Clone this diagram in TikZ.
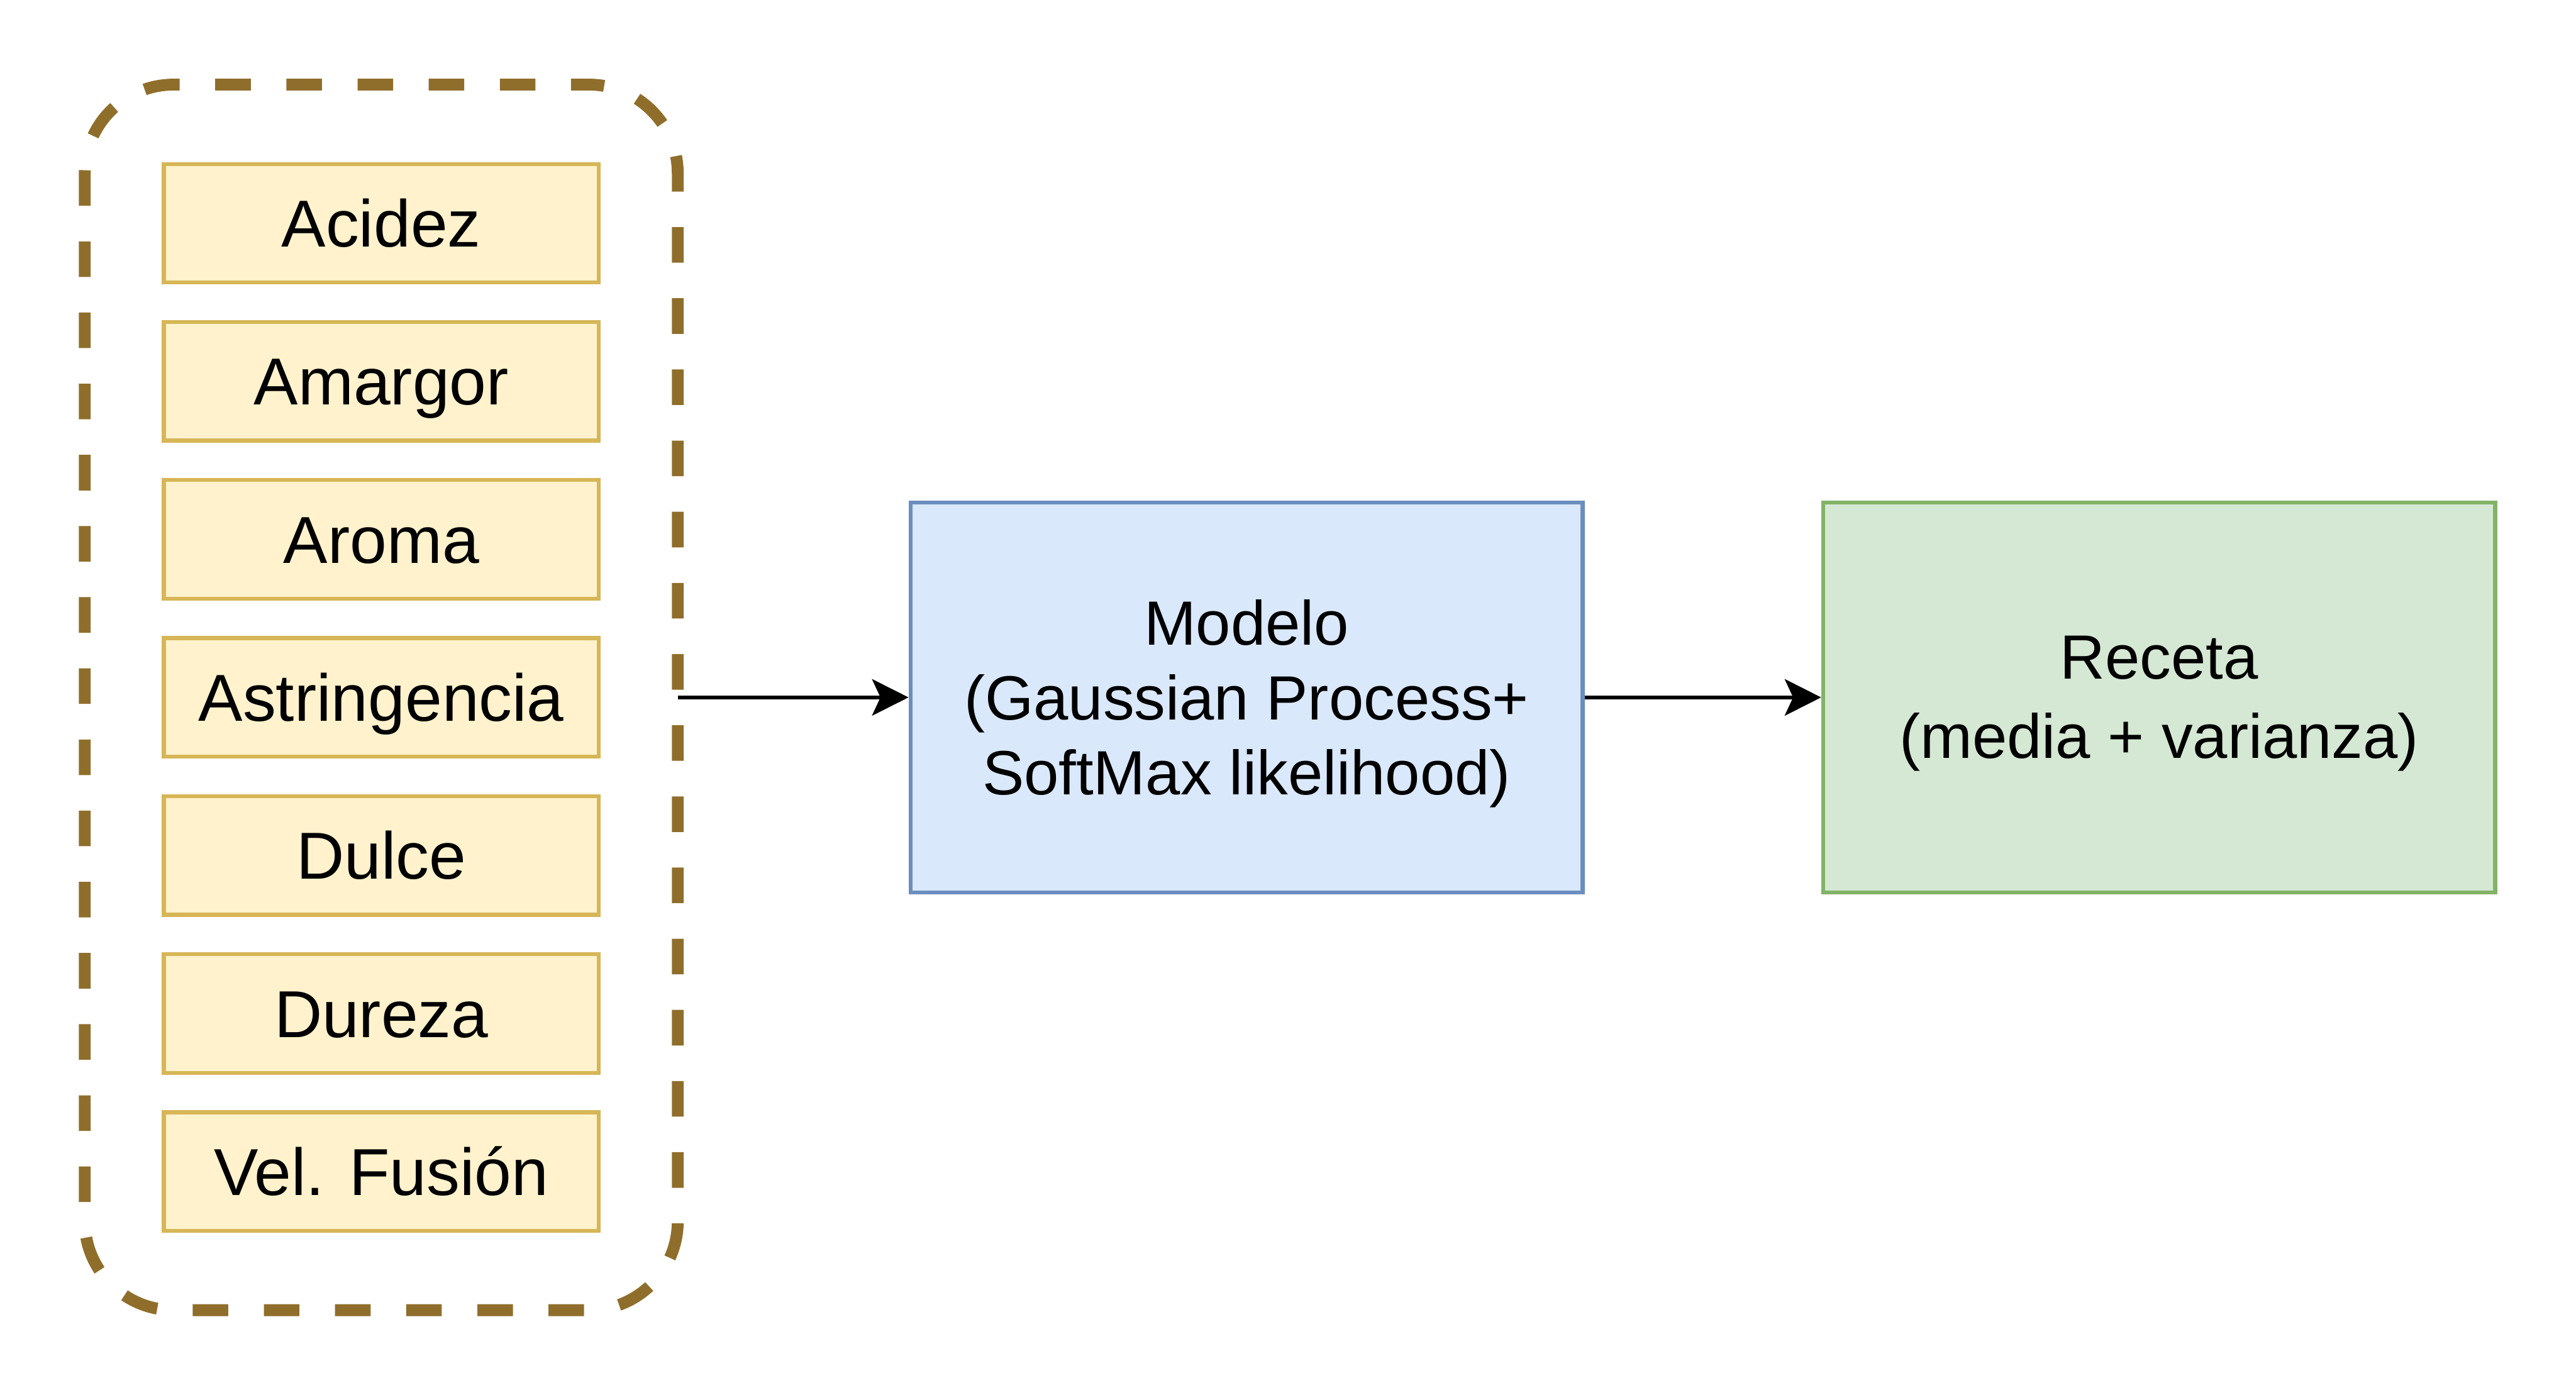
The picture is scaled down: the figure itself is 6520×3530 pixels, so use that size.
\documentclass[tikz,border=0pt]{standalone}
\usepackage{fontspec}
\setmainfont{Liberation Sans}
\usetikzlibrary{arrows.meta}
\definecolor{grpline}{RGB}{143,110,43}
\definecolor{featfill}{HTML}{FFF2CC}
\definecolor{featline}{HTML}{D6B656}
\definecolor{modfill}{HTML}{DAE8FC}
\definecolor{modline}{HTML}{6C8EBF}
\definecolor{recfill}{HTML}{D5E8D4}
\definecolor{recline}{HTML}{82B366}
\begin{document}
\begin{tikzpicture}[x=0.01cm, y=-0.01cm,
  grupo/.style={draw=grpline, line width=0.3cm, dash pattern=on 0.9cm off 0.9cm, dash phase=0.45cm, rounded corners=2.25cm, minimum width=15cm, minimum height=31cm, inner sep=0pt, outer sep=0pt},
  feat/.style={draw=featline, fill=featfill, line width=0.1cm, minimum width=11cm, minimum height=3cm, inner sep=0pt, text height=1.2cm, text depth=0pt, font=\fontsize{47.8}{57}\selectfont},
  caja/.style={line width=0.1cm, minimum width=17cm, minimum height=9.86cm, inner sep=0pt, align=center, font=\fontsize{45}{54}\selectfont},
  flecha/.style={line width=0.1cm, -{Stealth[length=0.92cm, width=0.92cm, inset=0.21cm]}}]
\useasboundingbox (0,0) rectangle (6520,3530);
\node[grupo] (grp) at (965,1765){};
\node[feat] (f0) at (965,565){Acidez};
\node[feat] (f1) at (965,965){Amargor};
\node[feat] (f2) at (965,1365){Aroma};
\node[feat] (f3) at (965,1765){Astringencia};
\node[feat] (f4) at (965,2165){Dulce};
\node[feat] (f5) at (965,2565){Dureza};
\node[feat] (f6) at (965,2965){Vel. Fusión};
\node[caja, draw=modline, fill=modfill] (model) at (3155,1765){Modelo\\(Gaussian Process+\\SoftMax likelihood\smash{)}};
\node[caja, draw=recline, fill=recfill, font=\fontsize{45}{57}\selectfont] (rec) at (5465,1765){Receta\\\smash{(}media + varianza\smash{)}};
\draw[flecha](grp.east) -- (model.west);
\draw[flecha](model.east) -- (rec.west);

\end{tikzpicture}
\end{document}
